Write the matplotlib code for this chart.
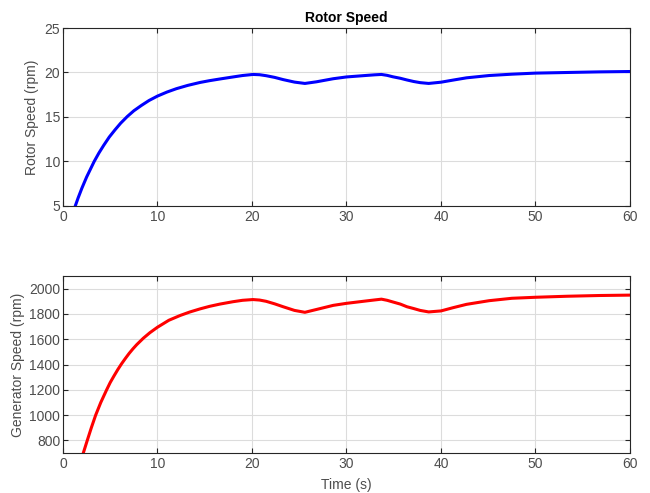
import matplotlib
matplotlib.use("Agg")
import matplotlib.pyplot as plt

plt.rcParams['font.family'] = ['Liberation Sans', 'DejaVu Sans']

rotor_t = [1.3, 1.6, 2.0, 2.5, 3.3, 3.8, 4.3, 4.9, 5.5, 6.1, 6.8, 7.5, 8.3, 9.1,
           10, 11, 12, 13.2, 14.5, 15.5, 16.6, 18, 19, 20.1, 20.8, 21.5, 22.4,
           23.3, 24.5, 25.6, 26.8, 28.6, 30, 32.1, 33.0, 33.7, 34.3, 34.9, 35.7,
           36.4, 37.1, 37.8, 38.7, 40, 41.3, 42.7, 45.1, 47.5, 50, 53.3, 56.8, 60]
rotor_speed = [5.0, 5.9, 7.0, 8.25, 10.0, 10.95, 11.8, 12.75, 13.55, 14.3, 15.05,
               15.7, 16.3, 16.85, 17.35, 17.8, 18.18, 18.55, 18.88, 19.08, 19.27,
               19.5, 19.66, 19.78, 19.75, 19.64, 19.45, 19.2, 18.92, 18.77, 18.95,
               19.3, 19.5, 19.67, 19.74, 19.78, 19.68, 19.52, 19.35, 19.16, 18.99,
               18.86, 18.77, 18.91, 19.15, 19.4, 19.66, 19.81, 19.93, 20.0, 20.07,
               20.11]

gen_t = [2.15, 2.57, 3.0, 3.46, 4.0, 4.62, 5.0, 5.4, 5.8, 6.2, 6.6, 7.0, 7.4, 7.8,
         8.5, 9.2, 10, 11.2, 12.4, 13.4, 14.5, 15.5, 16.6, 18, 19, 20.1, 20.8,
         21.5, 22.4, 23.3, 24.5, 25.6, 26.8, 28.6, 30, 32.1, 33.0, 33.7, 34.3,
         34.9, 35.7, 36.4, 37.1, 37.8, 38.7, 40, 41.3, 42.7, 45.1, 47.5, 50, 53.3,
         56.8, 60]
gen_speed = [700, 800, 900, 1000, 1100, 1200, 1258, 1310, 1360, 1406, 1448, 1488,
             1524, 1557, 1608, 1652, 1695, 1750, 1788, 1815, 1840, 1860, 1878,
             1897, 1908, 1914, 1910, 1900, 1880, 1857, 1828, 1813, 1835, 1868,
             1884, 1903, 1911, 1917, 1908, 1895, 1878, 1857, 1843, 1828, 1816,
             1824, 1850, 1876, 1905, 1924, 1932, 1940, 1946, 1949]

x_ticks = [0, 10, 20, 30, 40, 50, 60]
rotor_ticks = [5, 10, 15, 20, 25]
gen_ticks = [800, 1000, 1200, 1400, 1600, 1800, 2000]

fig = plt.figure(figsize=(6.5, 4.93), dpi=100)
ax1 = fig.add_axes([0.0969, 0.5822, 0.8723, 0.361])
ax2 = fig.add_axes([0.0969, 0.0811, 0.8723, 0.359])

txt = '#4d4d4d'
for ax in (ax1, ax2):
    ax.set_xlim(0, 60)
    ax.set_xticks(x_ticks)
    ax.grid(True, color='#dcdcdc', linewidth=0.8)
    ax.set_axisbelow(True)
    ax.tick_params(direction='in', top=True, right=True, colors='#262626',
                   labelcolor=txt, labelsize=10, length=3.5, width=0.8, pad=3)
    ax.tick_params(axis='y', pad=2)
    for s in ax.spines.values():
        s.set_color('#262626')
        s.set_linewidth(0.8)

ax1.plot(rotor_t, rotor_speed, color='#0000ff', linewidth=2.2)
ax1.set_ylim(5, 25)
ax1.set_yticks(rotor_ticks)
ax1.set_ylabel('Rotor Speed (rpm)', color=txt, fontsize=10, labelpad=4)
ax1.set_title('Rotor Speed', fontsize=10, fontweight='bold', color='#000000', pad=4)

ax2.plot(gen_t, gen_speed, color='#ff0000', linewidth=2.2)
ax2.set_ylim(700, 2100)
ax2.set_yticks(gen_ticks)
ax2.set_ylabel('Generator Speed (rpm)', color=txt, fontsize=10, labelpad=3)
ax2.set_xlabel('Time (s)', color=txt, fontsize=10, labelpad=5)

fig.savefig('out.png', dpi=100)
